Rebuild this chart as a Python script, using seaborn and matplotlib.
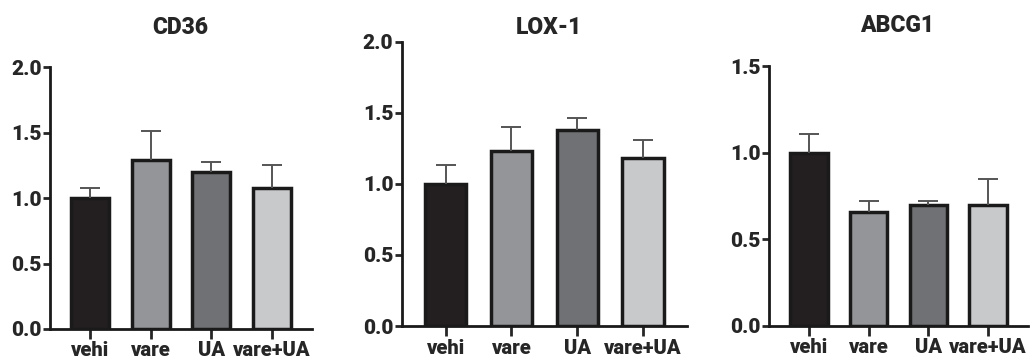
import matplotlib
matplotlib.use("Agg")
import matplotlib.pyplot as plt
import seaborn as sns
import numpy as np

groupes = ["vehi", "vare", "UA", "vare+UA"]
couleurs = ["#231f20", "#939598", "#707174", "#c8c9cb"]

cd36_moy = [1.0, 1.29, 1.20, 1.08]
cd36_err = [0.08, 0.22, 0.08, 0.17]

lox1_moy = [1.0, 1.23, 1.38, 1.18]
lox1_err = [0.13, 0.17, 0.08, 0.13]

abcg1_moy = [1.0, 0.655, 0.695, 0.695]
abcg1_err = [0.11, 0.065, 0.025, 0.155]

sns.set_style("ticks")
plt.rcParams["font.family"] = ["Roboto", "Liberation Sans", "DejaVu Sans"]

fig = plt.figure(figsize=(10.31, 3.61), dpi=100)

# positions des axes en pixels: (gauche, bas, droite, haut), puis centre du titre
panneaux = [
    ("CD36", cd36_moy, cd36_err, 2.0, [0, 0.5, 1.0, 1.5, 2.0], (50, 329, 312, 67.3), (180, 27)),
    ("LOX-1", lox1_moy, lox1_err, 2.0, [0, 0.5, 1.0, 1.5, 2.0], (401.7, 326, 687, 41.7), (549, 27)),
    ("ABCG1", abcg1_moy, abcg1_err, 1.5, [0, 0.5, 1.0, 1.5], (769, 325.7, 1028, 66), (897, 25)),
]

W, H = 1031, 361
for titre, moy, err, ymax, yticks, (g, b, d, h), (tx, ty) in panneaux:
    ax = fig.add_axes([g / W, 1 - b / H, (d - g) / W, (b - h) / H])
    sns.barplot(x=groupes, y=moy, hue=groupes, palette=couleurs, legend=False,
                edgecolor="#1a1a1a", linewidth=2.5, width=0.63, saturation=1, ax=ax)
    eb = ax.errorbar(np.arange(len(groupes)), moy, yerr=[np.zeros(len(err)), err],
                     fmt="none", ecolor="#555555", elinewidth=1.4, capsize=7.5,
                     capthick=1.4, zorder=1)
    eb[1][0].set_visible(False)  # pas de cap en bas
    ax.set_xlim(-0.67, 3.67)
    ax.set_ylim(0, ymax)
    ax.set_yticks(yticks)
    ax.set_yticklabels([f"{v:.1f}" for v in yticks], fontsize=15, weight="black")
    ax.set_xticks(range(len(groupes)))
    ax.set_xticklabels(groupes, fontsize=14.5, weight="black")
    ax.tick_params(axis="y", length=5, width=2, pad=1)
    ax.tick_params(axis="x", length=7, width=2, pad=2)
    for s in ["left", "bottom"]:
        ax.spines[s].set_linewidth(2)
        ax.spines[s].set_color("#1a1a1a")
    sns.despine(ax=ax)
    ax.set_xlabel("")
    ax.set_ylabel("")
    fig.text(tx / W, 1 - ty / H, titre, ha="center", va="center",
             fontsize=16.5, weight="black")

fig.savefig("out.png", dpi=100)
